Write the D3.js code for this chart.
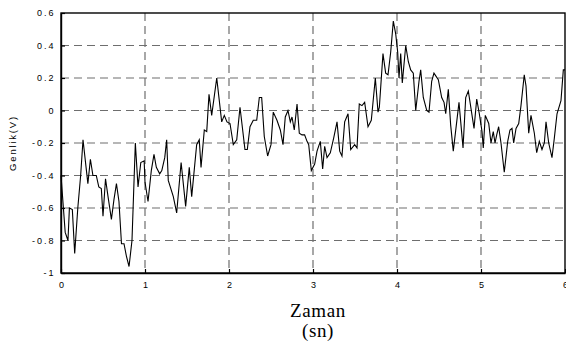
<!DOCTYPE html>
<html>
<head>
<meta charset="utf-8">
<script src="https://cdn.jsdelivr.net/npm/d3@7"></script>
<style>
  body { margin: 0; background: #fff; }
  svg { display: block; }
</style>
</head>
<body>
<svg id="chart" width="566" height="347"></svg>
<script>
// values: time (sn) and amplitude (V)
const times = [
  0, .05, .083, .10, .135, .163, .20, .234, .262, .32, .35, .38, .42, .45, .48, .50, .53, .56, .60, .63,
  .66, .69, .72, .75, .78, .81, .845, .885, .917, .95, .99, 1.0, 1.036, 1.075, 1.107, 1.135, 1.175, 1.2, 1.235, 1.258,
  1.277, 1.337, 1.377, 1.43, 1.484, 1.527, 1.556, 1.615, 1.646, 1.667, 1.706, 1.735, 1.762, 1.794, 1.854, 1.913, 1.944, 1.976, 2.012, 2.051,
  2.092, 2.131, 2.19, 2.218, 2.25, 2.289, 2.33, 2.361, 2.389, 2.42, 2.46, 2.5, 2.527, 2.571, 2.611, 2.643, 2.67, 2.702, 2.73, 2.75,
  2.777, 2.81, 2.837, 2.869, 2.9, 2.929, 2.949, 2.98, 3.02, 3.048, 3.087, 3.115, 3.139, 3.167, 3.206, 3.246, 3.286, 3.318, 3.345, 3.377,
  3.417, 3.449, 3.496, 3.524, 3.551, 3.583, 3.615, 3.655, 3.694, 3.742, 3.774, 3.79, 3.833, 3.865, 3.893, 3.925, 3.956, 3.985, 4.008, 4.024,
  4.044, 4.063, 4.104, 4.135, 4.163, 4.194, 4.223, 4.262, 4.282, 4.313, 4.354, 4.381, 4.413, 4.44, 4.492, 4.532, 4.56, 4.58, 4.611, 4.639,
  4.67, 4.738, 4.786, 4.818, 4.849, 4.917, 4.949, 4.98, 5.012, 5.027, 5.051, 5.092, 5.119, 5.146, 5.167, 5.187, 5.21, 5.238, 5.277, 5.318,
  5.345, 5.369, 5.389, 5.417, 5.449, 5.476, 5.515, 5.536, 5.568, 5.595, 5.635, 5.663, 5.694, 5.726, 5.754, 5.774, 5.806, 5.845, 5.873, 5.905,
  5.952, 5.98, 6.0
];
const volts = [
  -0.4, -0.75, -0.8, -0.6, -0.61, -0.88, -0.6, -0.4, -0.18, -0.45, -0.3, -0.4, -0.4, -0.47, -0.48, -0.65, -0.42, -0.53, -0.67, -0.55,
  -0.45, -0.56, -0.82, -0.82, -0.9, -0.96, -0.8, -0.2, -0.47, -0.32, -0.31, -0.44, -0.56, -0.37, -0.27, -0.35, -0.39, -0.37, -0.29, -0.18,
  -0.43, -0.53, -0.63, -0.32, -0.59, -0.35, -0.53, -0.21, -0.18, -0.35, -0.12, -0.13, 0.1, -0.03, 0.2, -0.07, -0.03, -0.07, -0.08, -0.21,
  -0.18, 0.02, -0.24, -0.24, -0.1, -0.06, -0.06, 0.08, 0.08, -0.16, -0.28, -0.21, -0.01, -0.06, -0.12, -0.21, -0.04, 0.0, -0.07, -0.04,
  -0.12, 0.04, -0.14, -0.15, -0.15, -0.19, -0.21, -0.37, -0.33, -0.25, -0.19, -0.36, -0.22, -0.29, -0.26, -0.17, -0.07, -0.25, -0.28, -0.07,
  -0.02, -0.24, -0.21, -0.23, 0.04, 0.03, 0.05, -0.1, -0.06, 0.2, -0.01, 0.02, 0.35, 0.23, 0.22, 0.36, 0.55, 0.47, 0.36, 0.2,
  0.35, 0.17, 0.4, 0.3, 0.25, 0.23, 0.0, 0.18, 0.25, 0.08, 0.0, -0.01, 0.18, 0.23, 0.19, 0.08, 0.05, -0.02, 0.13, -0.09,
  -0.25, 0.05, -0.23, 0.08, 0.12, -0.11, 0.07, -0.02, -0.13, -0.23, -0.03, -0.08, -0.2, -0.13, -0.2, -0.15, -0.1, -0.2, -0.38, -0.19,
  -0.12, -0.11, -0.2, -0.11, -0.08, 0.03, 0.22, 0.15, -0.14, -0.03, -0.14, -0.26, -0.19, -0.24, -0.2, -0.07, -0.2, -0.29, -0.17, -0.02,
  0.06, 0.25, 0.25
];
const xTicks = [0, 1, 2, 3, 4, 5, 6];
const xTickLabels = ["0", "1", "2", "3", "4", "5", "6"];
const yTicks = [-1, -0.8, -0.6, -0.4, -0.2, 0, 0.2, 0.4, 0.6];
const yTickLabels = ["-1", "-0.8", "-0.6", "-0.4", "-0.2", "0", "0.2", "0.4", "0.6"];

const svg = d3.select("#chart");
const margin = { top: 13, right: 1, bottom: 74, left: 61 };
const W = 566, H = 347;

const x = d3.scaleLinear().domain([0, 6]).range([margin.left, W - margin.right]);
const y = d3.scaleLinear().domain([-1, 0.6]).range([H - margin.bottom, margin.top]);

// dashed grid
const grid = svg.append("g")
  .attr("stroke", "#6e6e6e")
  .attr("stroke-width", 1.2)
  .attr("stroke-dasharray", "8,5");
grid.selectAll("line.v").data(xTicks.slice(1, -1)).enter()
  .append("line")
    .attr("x1", d => x(d)).attr("x2", d => x(d))
    .attr("y1", y(0.6)).attr("y2", y(-1));
grid.selectAll("line.h").data(yTicks.slice(1, -1)).enter()
  .append("line")
    .attr("x1", x(0)).attr("x2", x(6))
    .attr("y1", d => y(d)).attr("y2", d => y(d));

// signal
const pts = times.map((t, i) => [t, volts[i]]);
const line = d3.line()
  .x(d => x(d[0]))
  .y(d => y(d[1]));
svg.append("path")
  .datum(pts)
  .attr("fill", "none")
  .attr("stroke", "#000")
  .attr("stroke-width", 1.1)
  .attr("stroke-linejoin", "miter")
  .attr("d", line);

// box
svg.append("rect")
  .attr("x", x(0)).attr("y", y(0.6))
  .attr("width", x(6) - x(0)).attr("height", y(-1) - y(0.6))
  .attr("fill", "none")
  .attr("stroke", "#000")
  .attr("stroke-width", 1.4);

// axes
const xAxis = d3.axisBottom(x)
  .tickValues(xTicks)
  .tickFormat((d, i) => xTickLabels[i])
  .tickSizeInner(-4).tickSizeOuter(0).tickPadding(9);
const yAxis = d3.axisLeft(y)
  .tickValues(yTicks)
  .tickFormat((d, i) => yTickLabels[i])
  .tickSizeInner(-4).tickSizeOuter(0).tickPadding(5.5);

const gx = svg.append("g")
  .attr("transform", `translate(0,${y(-1)})`)
  .call(xAxis);
const gy = svg.append("g")
  .attr("transform", `translate(${x(0)},0)`)
  .call(yAxis);

[gx, gy].forEach(g => {
  g.select(".domain").attr("stroke-width", 1.4);
  g.selectAll(".tick line").attr("stroke-width", 1.2);
  g.selectAll("text")
    .attr("font-family", "'Liberation Sans', Arial, sans-serif")
    .attr("font-size", 9)
    .attr("letter-spacing", 2)
    .attr("fill", "#000");
});
gx.selectAll("text").attr("dx", 1);

// labels
svg.append("text")
  .attr("transform", `translate(16,${(y(0.6) + y(-1)) / 2}) rotate(-90)`)
  .attr("text-anchor", "middle")
  .attr("font-family", "'Liberation Sans', Arial, sans-serif")
  .attr("font-size", 9.5)
  .attr("letter-spacing", 1.8)
  .text("Genlik(V)");

svg.append("text")
  .attr("x", (x(0) + x(6)) / 2 + 5).attr("y", 317)
  .attr("text-anchor", "middle")
  .attr("font-family", "'Liberation Serif', 'Times New Roman', serif")
  .attr("font-size", 19)
  .attr("letter-spacing", 0.6)
  .text("Zaman");
svg.append("text")
  .attr("x", (x(0) + x(6)) / 2 + 5).attr("y", 337)
  .attr("text-anchor", "middle")
  .attr("font-family", "'Liberation Serif', 'Times New Roman', serif")
  .attr("font-size", 19)
  .attr("letter-spacing", 0.6)
  .text("(sn)");
</script>
</body>
</html>
